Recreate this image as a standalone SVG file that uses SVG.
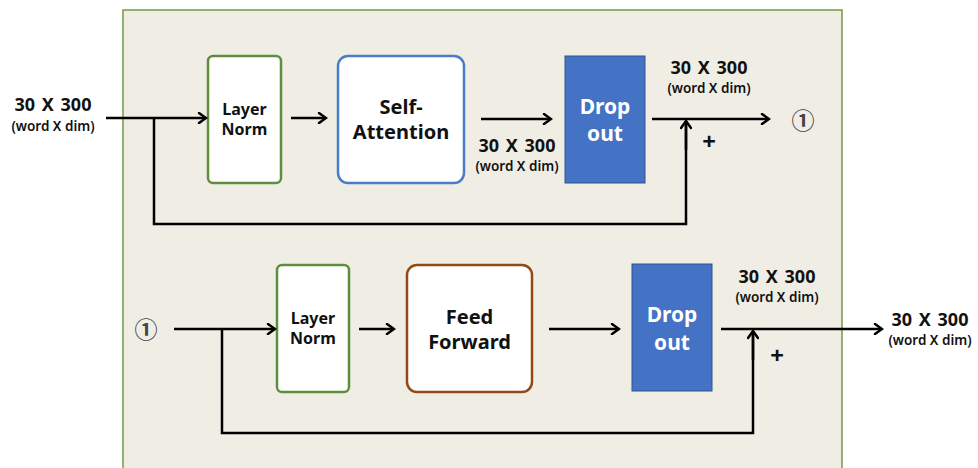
<svg xmlns="http://www.w3.org/2000/svg" width="978" height="468" viewBox="0 0 978 468">
  <style>
    .panel { fill: #F0EEE4; stroke: #6F9A43; stroke-width: 1.5; }
    .ln { fill: #FFFFFF; stroke: #5E8E3C; stroke-width: 2.5; }
    .sa { fill: #FFFFFF; stroke: #4A7CC9; stroke-width: 2.5; }
    .ff { fill: #FFFFFF; stroke: #8E4A17; stroke-width: 2.5; }
    .do { fill: #4472C4; stroke: #2F528F; stroke-width: 1; }
    .wire { fill: none; stroke: #000; stroke-width: 2.5; }
    .arr { marker-end: url(#head); }
    text { font-family: "Noto Sans", "Noto Sans CJK KR", sans-serif; font-weight: bold; text-anchor: middle; fill: #111; }
    .dim { font-size: 18px; word-spacing: 2px; }
    .sub { font-size: 13.5px; font-weight: 600; }
    .node { font-size: 16px; }
    .big { font-size: 20px; }
    .wt { fill: #FFFFFF; font-size: 21px; }
    .circ { font-family: "Noto Sans CJK KR", sans-serif; font-size: 23px; font-weight: bold; fill: #444; }
    .plus { font-size: 24px; }
  </style>
  <defs>
    <marker id="head" viewBox="0 0 12 12" refX="10" refY="6" markerWidth="12" markerHeight="12" markerUnits="userSpaceOnUse" orient="auto">
      <path d="M3,1 L10,6 L3,11" fill="none" stroke="#000" stroke-width="2.5" stroke-linecap="round" stroke-linejoin="miter"/>
    </marker>
  </defs>

  <!-- encoder block background -->
  <rect class="panel" x="123" y="10" width="719" height="470"/>

  <!-- sub-layer 1: layer norm, self-attention, dropout, residual add -->
  <g id="ln1">
    <rect class="ln" x="208" y="56" width="73" height="127" rx="5"/>
    <text class="node" x="244.5" y="115">Layer</text>
    <text class="node" x="244.5" y="135">Norm</text>
  </g>
  <g id="self-attention">
    <rect class="sa" x="338" y="56" width="126" height="127" rx="10"/>
    <text class="big" x="401" y="114">Self-</text>
    <text class="big" x="401" y="139">Attention</text>
  </g>
  <g id="dropout1">
    <rect class="do" x="565" y="56" width="80" height="127"/>
    <text class="wt" x="605" y="114">Drop</text>
    <text class="wt" x="605" y="141">out</text>
  </g>

  <!-- sub-layer 2: layer norm, feed forward, dropout, residual add -->
  <g id="ln2">
    <rect class="ln" x="277" y="265" width="72" height="127" rx="5"/>
    <text class="node" x="313" y="324">Layer</text>
    <text class="node" x="313" y="344">Norm</text>
  </g>
  <g id="feed-forward">
    <rect class="ff" x="407" y="265" width="125" height="127" rx="10"/>
    <text class="big" x="469.5" y="324">Feed</text>
    <text class="big" x="469.5" y="349">Forward</text>
  </g>
  <g id="dropout2">
    <rect class="do" x="632" y="264" width="80" height="127"/>
    <text class="wt" x="672" y="322">Drop</text>
    <text class="wt" x="672" y="350">out</text>
  </g>

  <!-- connectors -->
  <g id="connectors">
    <line class="wire arr" x1="106" y1="118" x2="206" y2="118"/>
    <polyline class="wire" points="154,118 154,224 686,224 686,124"/>
    <line class="wire arr" x1="291" y1="118" x2="326" y2="118"/>
    <line class="wire arr" x1="481" y1="119" x2="551" y2="119"/>
    <line class="wire arr" x1="652" y1="119" x2="769" y2="119"/>
    <line class="wire arr" x1="686" y1="150" x2="686" y2="121"/>

    <line class="wire arr" x1="174" y1="329" x2="275" y2="329"/>
    <polyline class="wire" points="222,329 222,433 753,433 753,334"/>
    <line class="wire arr" x1="359" y1="329" x2="394" y2="329"/>
    <line class="wire arr" x1="549" y1="329" x2="619" y2="329"/>
    <line class="wire arr" x1="721" y1="329" x2="882" y2="329"/>
    <line class="wire arr" x1="753" y1="360" x2="753" y2="331"/>
  </g>

  <!-- tensor shape labels -->
  <g id="labels">
    <text class="dim" x="53" y="111">30 X 300</text>
    <text class="sub" x="53" y="131">(word X dim)</text>

    <text class="dim" x="517" y="152">30 X 300</text>
    <text class="sub" x="517" y="171">(word X dim)</text>

    <text class="dim" x="709" y="74">30 X 300</text>
    <text class="sub" x="709" y="93">(word X dim)</text>
    <text class="plus" x="709" y="150">+</text>
    <text class="circ" x="803" y="129">①</text>

    <text class="circ" x="146" y="338">①</text>

    <text class="dim" x="777" y="283">30 X 300</text>
    <text class="sub" x="777" y="302">(word X dim)</text>
    <text class="plus" x="777" y="364">+</text>

    <text class="dim" x="930" y="326">30 X 300</text>
    <text class="sub" x="930" y="345">(word X dim)</text>
  </g>
</svg>
